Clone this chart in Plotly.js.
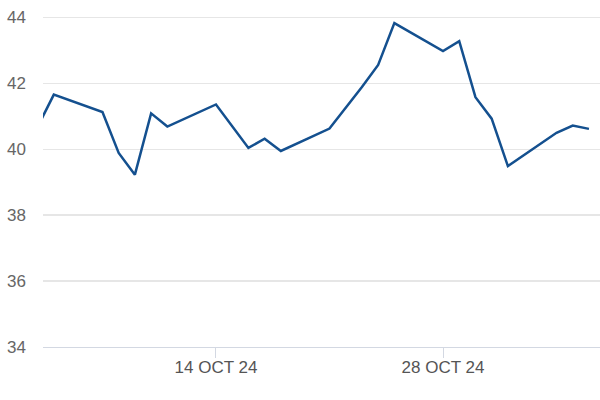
<!DOCTYPE html>
<html>
<head>
<meta charset="utf-8">
<script src="https://cdn.plot.ly/plotly-3.0.1.min.js"></script>
<style>html,body{margin:0;padding:0;background:#fff;}#chart{width:600px;height:400px;}</style>
</head>
<body>
<div id="chart"></div>
<script>
const dates = ['2024-10-03','2024-10-04','2024-10-07','2024-10-08','2024-10-09','2024-10-10','2024-10-11',
  '2024-10-14','2024-10-16','2024-10-17','2024-10-18','2024-10-21','2024-10-23','2024-10-24','2024-10-25',
  '2024-10-28','2024-10-29','2024-10-30','2024-10-31','2024-11-01','2024-11-04','2024-11-05','2024-11-06'];
const values = [40.68, 41.66, 41.13, 39.89, 39.23, 41.09, 40.69,
  41.36, 40.04, 40.32, 39.95, 40.63, 41.89, 42.56, 43.83,
  42.98, 43.28, 41.58, 40.93, 39.49, 40.50, 40.72, 40.62];
const xTickVals = ['2024-10-14', '2024-10-28'];
const xTickText = ['14 OCT 24', '28 OCT 24'];
const yTickVals = [34, 36, 38, 40, 42, 44];

const trace = {
  x: dates, y: values, type: 'scatter', mode: 'lines',
  line: {color: '#14508f', width: 2.5}, hoverinfo: 'skip'
};
const layout = {
  width: 600, height: 400,
  margin: {l: 43, r: 0, t: 0, b: 53},
  paper_bgcolor: '#fff', plot_bgcolor: '#fff',
  showlegend: false,
  font: {family: 'Liberation Sans, Arial, sans-serif', size: 17, color: '#666'},
  xaxis: {
    type: 'date',
    range: ['2024-10-03 08:00', '2024-11-06 16:20'],
    tickvals: xTickVals, ticktext: xTickText,
    showgrid: false, zeroline: false,
    showline: true, linecolor: '#d3d8e2', linewidth: 1,
    ticks: 'outside', ticklen: 10, tickcolor: '#d3d8e2', tickwidth: 1,
    ticklabelstandoff: -5,
    tickfont: {size: 17, color: '#555'}
  },
  yaxis: {
    range: [34, 44.53],
    tickvals: yTickVals,
    showgrid: true, gridcolor: '#e6e6e6', gridwidth: 1.5,
    zeroline: false, showline: false, ticks: '',
    ticklabelstandoff: 16,
    tickfont: {size: 17, color: '#666'}
  }
};
Plotly.newPlot('chart', [trace], layout, {displayModeBar: false, staticPlot: true});
</script>
</body>
</html>
